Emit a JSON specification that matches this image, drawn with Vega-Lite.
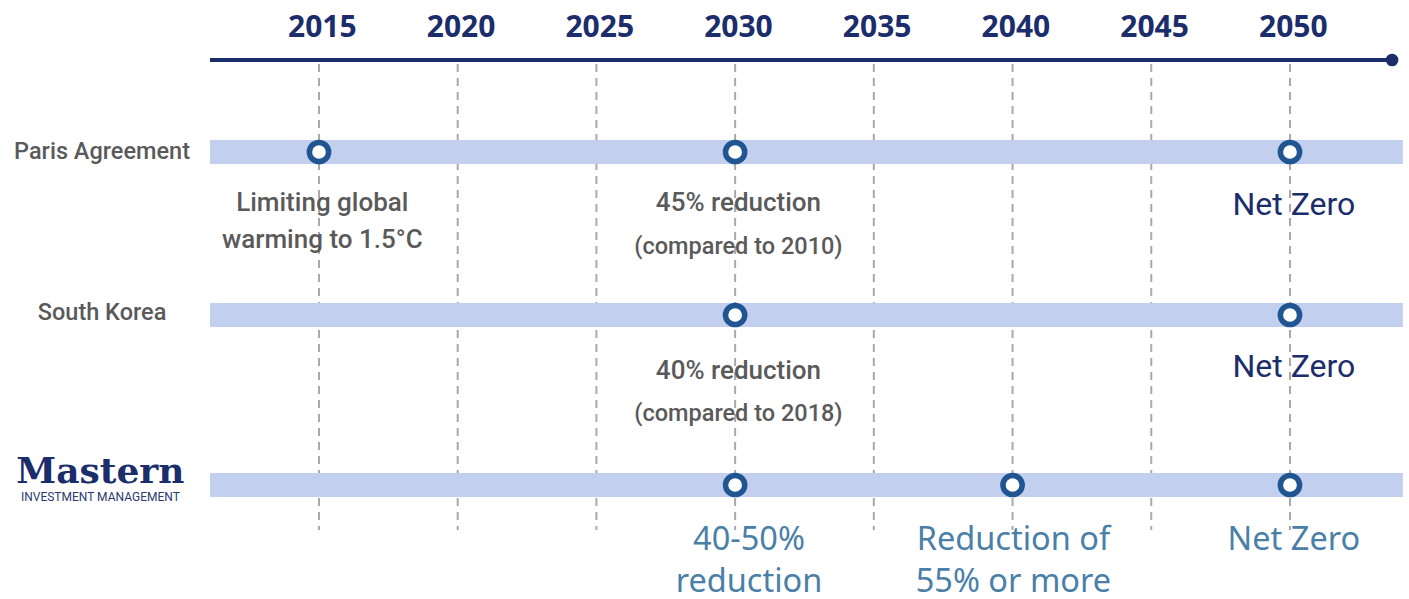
{
  "$schema": "https://vega.github.io/schema/vega-lite/v6.json",
  "width": 1409,
  "height": 599,
  "padding": 0,
  "autosize": {"type": "fit", "contains": "padding"},
  "config": {"view": {"stroke": null}, "axis": {"disable": true}},
  "layer": [
    {
      "data": {"values": [{"year": 2015, "pos": 64, "pos2": 530}, {"year": 2020, "pos": 64, "pos2": 530}, {"year": 2025, "pos": 64, "pos2": 530}, {"year": 2030, "pos": 64, "pos2": 530}, {"year": 2035, "pos": 64, "pos2": 530}, {"year": 2040, "pos": 64, "pos2": 530}, {"year": 2045, "pos": 64, "pos2": 530}, {"year": 2050, "pos": 64, "pos2": 530}]},
      "mark": {"type": "rule", "color": "#a9a9a9", "strokeWidth": 2, "strokeDash": [8, 6]},
      "encoding": {
        "x": {"field": "year", "type": "quantitative", "scale": {"domain": [2003.502, 2054.29], "nice": false, "zero": false}, "axis": null},
        "y": {"field": "pos", "type": "quantitative", "scale": {"domain": [0, 599], "reverse": true, "nice": false, "zero": false}, "axis": null},
        "y2": {"field": "pos2"}
      }
    },
    {
      "data": {"values": [{"row": "Paris Agreement", "start": 2011.07, "end": 2054.07, "pos": 140, "pos2": 164}, {"row": "South Korea", "start": 2011.07, "end": 2054.07, "pos": 303, "pos2": 327}, {"row": "Mastern", "start": 2011.07, "end": 2054.07, "pos": 473, "pos2": 497}]},
      "mark": {"type": "rect", "color": "#c3cfee"},
      "encoding": {
        "x": {"field": "start", "type": "quantitative"},
        "x2": {"field": "end"},
        "y": {"field": "pos", "type": "quantitative"},
        "y2": {"field": "pos2"}
      }
    },
    {
      "data": {"values": [{"start": 2011.07, "end": 2053.68, "pos": 60}]},
      "mark": {"type": "rule", "color": "#1c2d6b", "strokeWidth": 4},
      "encoding": {
        "x": {"field": "start", "type": "quantitative"},
        "x2": {"field": "end"},
        "y": {"field": "pos", "type": "quantitative"}
      }
    },
    {
      "data": {"values": [{"year": 2053.68, "pos": 60}]},
      "mark": {"type": "circle", "color": "#1c2d6b", "opacity": 1, "size": 160},
      "encoding": {
        "x": {"field": "year", "type": "quantitative"},
        "y": {"field": "pos", "type": "quantitative"}
      }
    },
    {
      "data": {"values": [{"year": 2015.12, "label": "2015", "pos": 28}, {"year": 2020.12, "label": "2020", "pos": 28}, {"year": 2025.12, "label": "2025", "pos": 28}, {"year": 2030.12, "label": "2030", "pos": 28}, {"year": 2035.12, "label": "2035", "pos": 28}, {"year": 2040.12, "label": "2040", "pos": 28}, {"year": 2045.12, "label": "2045", "pos": 28}, {"year": 2050.12, "label": "2050", "pos": 28}]},
      "mark": {"type": "text", "font": "Noto Sans", "fontWeight": "bold", "fontSize": 30, "color": "#1c2d6b", "align": "center", "baseline": "middle"},
      "encoding": {
        "x": {"field": "year", "type": "quantitative"},
        "y": {"field": "pos", "type": "quantitative"},
        "text": {"field": "label"}
      }
    },
    {
      "data": {"values": [{"row": "Paris Agreement", "year": 2015, "pos": 152}, {"row": "Paris Agreement", "year": 2030, "pos": 152}, {"row": "Paris Agreement", "year": 2050, "pos": 152}, {"row": "South Korea", "year": 2030, "pos": 315}, {"row": "South Korea", "year": 2050, "pos": 315}, {"row": "Mastern", "year": 2030, "pos": 485}, {"row": "Mastern", "year": 2040, "pos": 485}, {"row": "Mastern", "year": 2050, "pos": 485}]},
      "mark": {"type": "point", "shape": "circle", "filled": false, "fill": "#ffffff", "fillOpacity": 1, "stroke": "#1f5591", "strokeWidth": 5.5, "opacity": 1, "size": 370},
      "encoding": {
        "x": {"field": "year", "type": "quantitative"},
        "y": {"field": "pos", "type": "quantitative"}
      }
    },
    {
      "data": {"values": [{"label": "Paris Agreement", "year": 2007.18, "pos": 152}, {"label": "South Korea", "year": 2007.18, "pos": 313}]},
      "mark": {"type": "text", "font": "Roboto", "fontWeight": 500, "fontSize": 23.5, "color": "#5a5a5a", "align": "center", "baseline": "middle"},
      "encoding": {
        "x": {"field": "year", "type": "quantitative"},
        "y": {"field": "pos", "type": "quantitative"},
        "text": {"field": "label"}
      }
    },
    {
      "data": {"values": [{"label": "Mastern", "year": 2007.12, "pos": 472}]},
      "mark": {"type": "text", "font": "DejaVu Serif", "fontWeight": "bold", "fontSize": 36, "color": "#1b2d6a", "align": "center", "baseline": "middle"},
      "encoding": {
        "x": {"field": "year", "type": "quantitative"},
        "y": {"field": "pos", "type": "quantitative"},
        "text": {"field": "label"}
      }
    },
    {
      "data": {"values": [{"label": "INVESTMENT MANAGEMENT", "year": 2007.12, "pos": 497}]},
      "mark": {"type": "text", "font": "Roboto", "fontSize": 12, "letterSpacing": 1.5, "color": "#2a3a6e", "align": "center", "baseline": "middle"},
      "encoding": {
        "x": {"field": "year", "type": "quantitative"},
        "y": {"field": "pos", "type": "quantitative"},
        "text": {"field": "label"}
      }
    },
    {
      "data": {"values": [{"label": "Limiting global", "year": 2015.12, "pos": 203}, {"label": "warming to 1.5°C", "year": 2015.12, "pos": 240}, {"label": "45% reduction", "year": 2030.12, "pos": 203}, {"label": "40% reduction", "year": 2030.12, "pos": 371}]},
      "mark": {"type": "text", "font": "Roboto", "fontWeight": 500, "fontSize": 26, "color": "#5a5a5a", "align": "center", "baseline": "middle"},
      "encoding": {
        "x": {"field": "year", "type": "quantitative"},
        "y": {"field": "pos", "type": "quantitative"},
        "text": {"field": "label"}
      }
    },
    {
      "data": {"values": [{"label": "(compared to 2010)", "year": 2030.12, "pos": 247}, {"label": "(compared to 2018)", "year": 2030.12, "pos": 414}]},
      "mark": {"type": "text", "font": "Roboto", "fontWeight": 500, "fontSize": 23.5, "color": "#5a5a5a", "align": "center", "baseline": "middle"},
      "encoding": {
        "x": {"field": "year", "type": "quantitative"},
        "y": {"field": "pos", "type": "quantitative"},
        "text": {"field": "label"}
      }
    },
    {
      "data": {"values": [{"label": "Net Zero", "year": 2050.14, "pos": 205}, {"label": "Net Zero", "year": 2050.14, "pos": 367}]},
      "mark": {"type": "text", "font": "Roboto", "fontSize": 32, "color": "#1c2d6b", "align": "center", "baseline": "middle"},
      "encoding": {
        "x": {"field": "year", "type": "quantitative"},
        "y": {"field": "pos", "type": "quantitative"},
        "text": {"field": "label"}
      }
    },
    {
      "data": {"values": [{"label": "40-50%", "year": 2030.5, "pos": 540}, {"label": "reduction", "year": 2030.5, "pos": 582}, {"label": "Reduction of", "year": 2040.03, "pos": 540}, {"label": "55% or more", "year": 2040.03, "pos": 582}, {"label": "Net Zero", "year": 2050.14, "pos": 540}]},
      "mark": {"type": "text", "font": "Noto Sans", "fontSize": 32.5, "color": "#4a80a8", "align": "center", "baseline": "middle"},
      "encoding": {
        "x": {"field": "year", "type": "quantitative"},
        "y": {"field": "pos", "type": "quantitative"},
        "text": {"field": "label"}
      }
    }
  ]
}
